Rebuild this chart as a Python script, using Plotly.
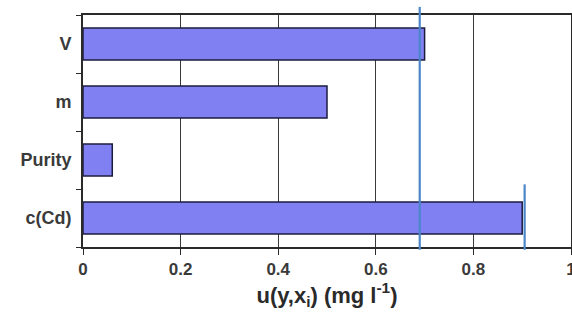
import plotly.graph_objects as go

# Uncertainty contributions (top to bottom: V, m, Purity, c(Cd))
categories = ["V", "m", "Purity", "c(Cd)"]
contributions = [0.70, 0.50, 0.06, 0.90]

# Reference markers drawn as vertical blue lines: (x value, top in paper units)
marker_x = [0.69, 0.905]
marker_top = [1.035, 0.27]

x_ticks = [0, 0.2, 0.4, 0.6, 0.8, 1]
x_tick_text = ["0", "0.2", "0.4", "0.6", "0.8", "1"]

fig = go.Figure()
fig.add_trace(go.Bar(
    y=categories,
    x=contributions,
    orientation="h",
    width=0.55,
    marker=dict(color="#8080f2", line=dict(color="#1c1c40", width=1.5)),
    hoverinfo="x+y",
))

shapes = []
for xv, top in zip(marker_x, marker_top):
    shapes.append(dict(
        type="line", xref="x", yref="paper",
        x0=xv, x1=xv, y0=-0.012, y1=top,
        line=dict(color="#4a86c8", width=2.2),
        layer="above",
    ))

fig.update_layout(
    width=572, height=325,
    margin=dict(l=83, r=1, t=15, b=78),
    paper_bgcolor="white", plot_bgcolor="white",
    showlegend=False,
    font=dict(family="Liberation Sans, Arial, sans-serif", color="#2e2e2e", size=18),
    shapes=shapes,
    xaxis=dict(
        range=[0, 1],
        tickvals=x_ticks, ticktext=x_tick_text,
        showgrid=True, gridcolor="#3a3a3a", gridwidth=1,
        showline=True, linecolor="#2a2a2a", linewidth=2, mirror=True,
        ticks="outside", ticklen=6, tickcolor="#2a2a2a",
        zeroline=False,
        automargin=False,
        ticklabeloverflow="allow",
        tickfont=dict(size=17, color="#3a3a3a", weight="bold"),
        title=dict(
            text="u(y,x<sub>i</sub>) (mg l<sup>-1</sup>)",
            font=dict(size=22, color="#2a2a2a", weight="bold"),
            standoff=4,
        ),
    ),
    yaxis=dict(
        type="category",
        categoryorder="array", categoryarray=categories[::-1],
        showline=True, linecolor="#2a2a2a", linewidth=2, mirror=True,
        ticks="outside", ticklen=5, tickcolor="#2a2a2a",
        tickson="boundaries",
        showgrid=False,
        automargin=False,
        ticklabelstandoff=6,
        tickfont=dict(size=18, color="#3a3a3a", weight="bold"),
    ),
)

fig.write_html("out.html")
